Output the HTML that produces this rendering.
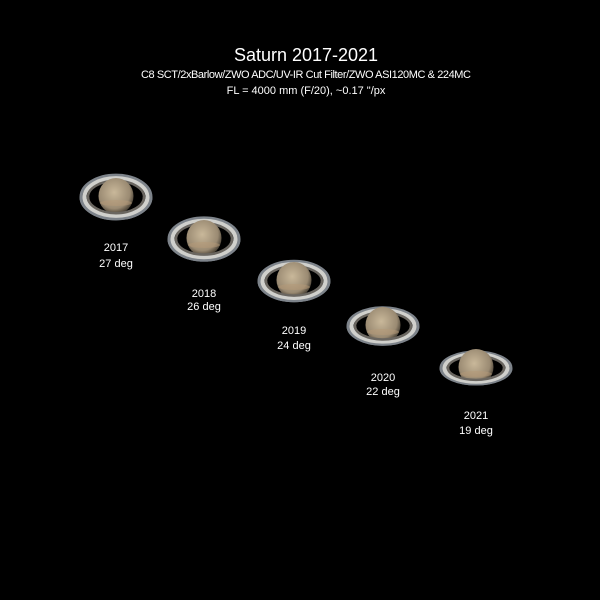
<!DOCTYPE html>
<html><head><meta charset="utf-8"><style>
html,body{margin:0;padding:0;background:#000;}
svg{display:block;}
text{font-family:"Liberation Sans","DejaVu Sans",sans-serif;fill:#fff;}
</style></head><body>
<svg id="c" width="600" height="600" viewBox="0 0 600 600">
<rect width="600" height="600" fill="#000"/>
<text x="306" y="61" font-size="18" text-anchor="middle">Saturn 2017-2021</text>
<text x="306" y="78" font-size="11" text-anchor="middle" textLength="330">C8 SCT/2xBarlow/ZWO ADC/UV-IR Cut Filter/ZWO ASI120MC &amp; 224MC</text>
<text x="306" y="94" font-size="11" text-anchor="middle">FL = 4000 mm (F/20), ~0.17 "/px</text>
<g id="g"></g>
</svg>
<script>
const years=["2017","2018","2019","2020","2021"];
const tilts=[27,26,24,22,19];
const cx=[116,204,294,383,476];
const cy=[197,239,281,326,368];
const NS="http://www.w3.org/2000/svg";
const g=document.getElementById('g');
function mk(t,a,p){const e=document.createElementNS(NS,t);for(const k in a)e.setAttribute(k,a[k]);(p||g).appendChild(e);return e;}
const defs=mk('defs',{});
const grad=mk('radialGradient',{id:'pg',cx:'45%',cy:'40%',r:'60%'},defs);
mk('stop',{offset:'0%','stop-color':'#c9b89a'},grad);
mk('stop',{offset:'75%','stop-color':'#9a8a72'},grad);
mk('stop',{offset:'100%','stop-color':'#4a4236'},grad);
years.forEach((y,i)=>{
  const x=cx[i],yy=cy[i];
  const ry=46*Math.sin(tilts[i]*Math.PI/180)+1;
  const grp=mk('g',{});
  
  
  const cid='clip'+i;
  const cp=mk('clipPath',{id:cid},defs);
  mk('rect',{x:x-50,y:yy,width:100,height:60},cp);
  function rings(parent){
    mk('ellipse',{cx:x,cy:yy,rx:35,ry:ry,fill:'none',stroke:'#7d838a','stroke-width':3},parent);
    mk('ellipse',{cx:x,cy:yy,rx:31.5,ry:ry*0.86,fill:'none',stroke:'#d0d0cc','stroke-width':4},parent);
    mk('ellipse',{cx:x,cy:yy,rx:28,ry:ry*0.74,fill:'none',stroke:'#6a6660','stroke-width':2.5},parent);
  }
  rings(grp);
  mk('ellipse',{cx:x,cy:yy-1,rx:17.5,ry:18,fill:'url(#pg)'},grp);
  mk('ellipse',{cx:x,cy:yy+6,rx:16,ry:3,fill:'#b59a78',opacity:0.5},grp);
  const front=mk('g',{'clip-path':'url(#'+cid+')'},grp);
  rings(front);
  const t1=mk('text',{x:x,y:[251,297,334,381,419][i],'font-size':11,'text-anchor':'middle'});
  t1.textContent=y;
  
  
  const t2=mk('text',{x:x,y:[267,310,349,395,434][i],'font-size':11,'text-anchor':'middle'});
  t2.textContent=tilts[i]+' deg';
  
  
});
</script>
</body></html>
